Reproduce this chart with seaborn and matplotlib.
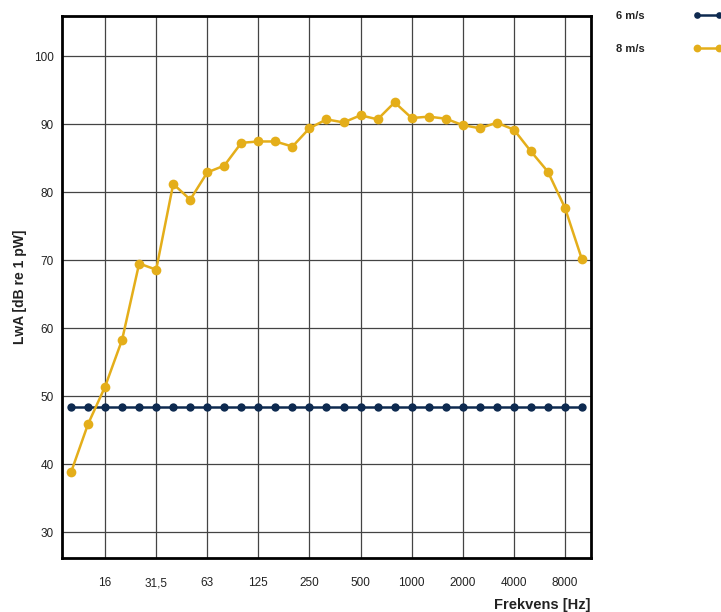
import matplotlib
matplotlib.use("Agg")
import matplotlib.pyplot as plt
import seaborn as sns
import pandas as pd
import numpy as np

bands = ["10", "12,5", "16", "20", "25", "31,5", "40", "50", "63", "80", "100",
         "125", "160", "200", "250", "315", "400", "500", "630", "800", "1000",
         "1250", "1600", "2000", "2500", "3150", "4000", "5000", "6300", "8000", "10000"]
lwa_6 = [48.4] * 31
lwa_8 = [38.8, 45.9, 51.4, 58.3, 69.5, 68.6, 81.2, 78.9, 82.9, 83.9, 87.25,
         87.45, 87.45, 86.7, 89.4, 90.7, 90.25, 91.3, 90.7, 93.2, 90.9,
         91.1, 90.8, 89.85, 89.4, 90.2, 89.2, 86.0, 83.0, 77.7, 70.1]
series_names = ["6 m/s", "8 m/s"]
tick_labels = ["16", "31,5", "63", "125", "250", "500", "1000", "2000", "4000", "8000"]
y_ticks = [30, 40, 50, 60, 70, 80, 90, 100]

df = pd.DataFrame({
    "band": list(range(len(bands))) * 2,
    "LwA": lwa_6 + lwa_8,
    "serie": [series_names[0]] * len(bands) + [series_names[1]] * len(bands),
})

sns.set_theme(style="white")
plt.rcParams["font.family"] = ["Liberation Sans", "DejaVu Sans"]

fig = plt.figure(figsize=(7.21, 6.12), dpi=100)
ax = fig.add_axes([62 / 721, 1 - 558 / 612, (591 - 62) / 721, (558 - 16) / 612])

palette = {"6 m/s": "#0E2A50", "8 m/s": "#E4AE1A"}
sns.lineplot(data=df[df.serie == "6 m/s"], x="band", y="LwA", ax=ax, color=palette["6 m/s"],
             marker="o", markersize=6, markeredgewidth=0, linewidth=1.8, label="6 m/s", zorder=3)
sns.lineplot(data=df[df.serie == "8 m/s"], x="band", y="LwA", ax=ax, color=palette["8 m/s"],
             marker="o", markersize=7, markeredgewidth=0, linewidth=1.8, label="8 m/s", zorder=4)

tick_pos = [bands.index(t) for t in tick_labels]
ax.set_xticks(tick_pos)
ax.set_xticklabels(tick_labels, fontsize=8.5, color="#222222")
ax.set_yticks(y_ticks)
ax.set_yticklabels([str(v) for v in y_ticks], fontsize=8.5, color="#222222")
ax.set_xlim(-0.53, 30.53)
ax.set_ylim(26.2, 105.9)
ax.tick_params(axis="both", length=0)
ax.tick_params(axis="x", pad=14)
ax.tick_params(axis="y", pad=6)

ax.grid(True, color="#444444", linewidth=0.9)
for s in ax.spines.values():
    s.set_color("black")
    s.set_linewidth(2)

ax.set_xlabel("Frekvens [Hz]", fontsize=10.5, fontweight="bold", color="#222222")
ax.xaxis.set_label_coords(1.0, -0.087)
ax.xaxis.label.set_horizontalalignment("right")
ax.xaxis.label.set_verticalalignment("center")
ax.set_ylabel("LwA [dB re 1 pW]", fontsize=10, fontweight="bold", color="#222222")
ax.yaxis.set_label_coords(-0.066, 0.5)

leg = ax.legend(loc="upper left", bbox_to_anchor=(606 / 721, 1 - 1 / 612),
                bbox_transform=fig.transFigure, frameon=False, markerfirst=False,
                numpoints=2, markerscale=0.8, handlelength=2.6, handletextpad=4.4,
                labelspacing=2.05, prop={"weight": "bold", "size": 8})
for t in leg.get_texts():
    t.set_color("#222222")

fig.savefig("out.png", dpi=100)
